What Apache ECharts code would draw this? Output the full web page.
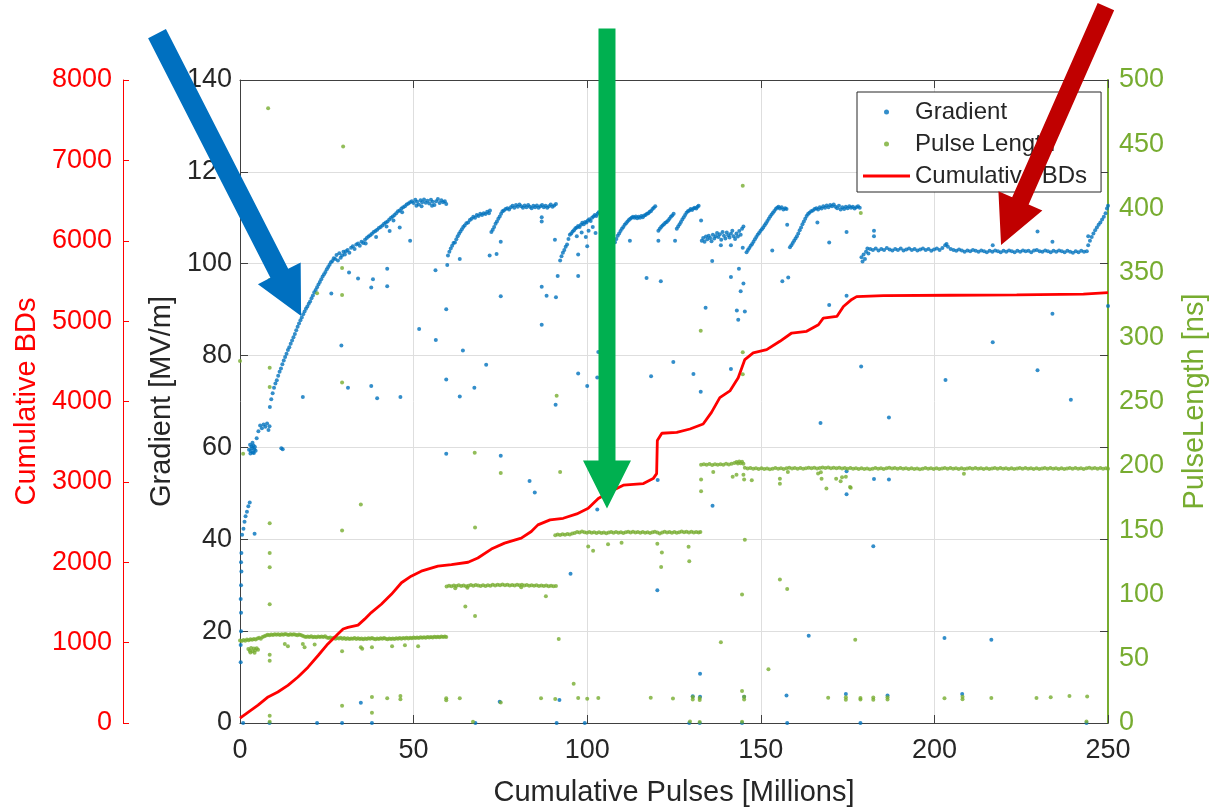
<!DOCTYPE html>
<html>
<head>
<meta charset="utf-8">
<title>Cumulative pulses</title>
<script src="https://cdn.jsdelivr.net/npm/echarts@6/dist/echarts.min.js"></script>
<style>
  html, body { margin: 0; padding: 0; background: #ffffff; }
  #chart { width: 1227px; height: 812px; }
</style>
</head>
<body>
<div id="chart"></div>
<script>
// Cumulative pulses [millions] vs gradient [MV/m]: main conditioning trace
const gradientTrace = [
  [0.2,13.2],[0.2,17],[0.3,20],[0.3,24],[0.2,27],[0.3,30],[0.4,33],[0.3,35],[0.4,37],[0.6,41],[1.0,42.3],[1.3,43.8],[1.6,45],[2.0,46],[2.4,47.2],[2.8,48],
  [2.6,59.5],[2.9,60.6],[3.1,59.2],[3.3,60.2],[3.5,59.8],[3.7,58.9],[3.9,60.4],[4.1,59.6],[4.3,60.1],[4.5,59.3],[3.0,58.7],[3.6,61],[4.0,58.8],
  [4.8,62],[5.3,63.5],[5.8,64.8],[6.3,64.2],[6.8,65],[7.3,64.5],[7.8,65.2],[8.2,63.8],[8.5,64.6],
  [8.6,68.8],[9.0,70.5],[9.4,71.8],[9.8,73.0],[10.2,73.9],[10.6,74.6],[11.0,75.6],[11.4,76.5],[11.8,77.2],[12.2,78.1],[12.6,78.9],[13.0,79.7],
  [13.4,80.4],[13.8,81.2],[14.2,81.8],[14.6,82.6],[15.0,83.3],[15.4,84.0],[15.8,84.7],[16.2,85.5],[16.6,86.3],[17.0,87.0],[17.4,87.7],[17.8,88.3],
  [18.2,89.0],[18.6,89.6],[19.0,90.2],[19.4,90.7],[19.8,91.3],[20.2,91.8],[20.6,92.5],[21.0,93.1],[21.4,93.8],[21.8,94.3],[22.2,94.9],[22.6,95.5],
  [23.0,96.0],[23.4,96.6],[23.8,97.2],[24.2,97.7],[24.6,98.2],[25.0,98.8],[25.4,99.3],[25.8,99.8],[26.2,100.3],[26.6,100.6],[27.0,101.2],[27.4,101.0],
  [27.8,101.9],[28.2,100.7],[28.6,102.3],[29.0,101.3],[29.4,101.8],[29.8,102.6],[30.2,102.0],[30.5,102.7],[31.0,103.0],[31.5,102.4],[32.0,103.5],
  [32.5,103.8],[33.0,103.2],[33.5,104.2],[34.0,104.4],[34.5,103.9],[35.0,104.8],[35.5,104.5],[36.0,105.2],[36.5,105.6],[37.0,105.9],[37.5,106.2],
  [38.0,106.5],[38.5,106.9],[39.0,107.1],[39.5,107.4],[40.0,107.8],[40.5,108.0],[41.0,108.3],[41.5,108.7],[42.0,109.0],[42.5,109.2],[43.0,109.6],
  [43.5,110.0],[44.0,110.3],[44.5,110.6],[45.0,111.0],[45.5,111.4],[46.0,111.6],[46.5,112.0],[47.0,112.3],[47.5,112.5],[48.0,112.9],[48.5,113.1],
  [49.0,113.4],[49.5,113.6],[50.0,113.2],[50.5,113.9],[51.0,113.5],[51.5,112.9],[52.0,113.8],[52.5,113.4],[53.0,114.0],[53.5,113.3],[54.0,113.7],
  [54.5,113.1],[55.0,113.9],[55.5,113.5],[56.0,112.8],[56.5,113.6],[57.0,114.1],[57.5,113.2],[58.0,113.8],[58.5,113.4],[59.0,113.6],[59.4,113.0],
  [36.2,104.4],[39.2,105.8],[42.2,108.1],[44.2,109.4],[46.7,111.2],[50.8,112.6],[52.3,112.5],[55.3,112.6],
  [59.9,101.8],[60.3,102.6],[60.7,103.3],[61.1,103.9],[61.5,104.5],[61.9,104.6],[62.3,105.3],[62.7,106.0],[63.1,106.5],[63.5,107.0],[63.9,107.5],
  [64.3,108.0],[64.7,108.3],[65.2,108.8],[65.7,109.0],[66.2,109.5],[66.7,109.8],[67.2,110.2],[67.7,110.0],[68.2,110.6],[68.7,110.4],[69.2,110.9],
  [69.7,110.6],[70.2,111.0],[70.7,110.8],[71.2,111.3],[71.7,111.0],[72.0,111.6],
  [72.4,106.9],[72.8,107.4],[73.2,108.0],[73.6,108.7],[74.0,109.2],[74.4,109.8],[74.8,110.3],[75.2,110.9],[75.6,111.4],[76.0,111.6],[76.5,111.9],
  [77.0,112.1],[77.5,111.8],[78.0,112.3],[78.5,112.6],[79.0,112.2],[79.5,112.8],[80.0,112.4],[80.5,112.9],[81.0,112.5],[81.5,112.2],[82.0,112.7],
  [82.5,112.3],[83.0,112.8],[83.5,112.4],[84.0,112.1],[84.5,112.6],[85.0,112.3],[85.5,112.7],[86.0,112.2],[86.5,112.5],[87.0,112.8],[87.5,112.3],
  [88.0,112.6],[88.5,112.2],[89.0,112.5],[89.5,112.9],[90.0,112.4],[90.5,112.7],[91.0,113.0],
  [92.2,100.7],[92.6,101.6],[93.0,102.4],[93.4,103.0],[93.8,103.7],[94.2,104.2],[94.6,105.4],[95.0,106.3],[95.4,106.6],[95.8,107.0],[96.2,107.3],
  [96.6,107.7],[97.0,107.9],[97.4,108.2],[97.8,108.0],[98.2,108.5],[98.6,108.9],[99.0,108.6],[99.4,109.1],[99.8,109.0],[100.2,109.4],[100.6,109.7],
  [101.0,109.3],[101.4,110.0],[101.8,110.3],[102.2,110.6],[102.6,110.4],[103.0,110.9],[103.3,111.2],
  [97.0,106.0],[98.4,106.8],[99.6,105.8],[100.4,107.2],[101.6,108.0],[102.4,106.7],
  [108.0,104.7],[108.4,105.4],[108.8,106.1],[109.2,106.6],[109.6,107.1],[110.0,107.6],[110.4,108.0],[110.8,108.5],[111.2,108.8],[111.6,109.2],
  [112.0,109.5],[112.4,109.8],[112.8,110.0],[113.2,110.2],[113.6,110.0],[114.0,110.3],[114.4,109.9],[114.8,110.2],[115.2,110.0],[115.6,110.4],
  [116.0,110.1],[116.4,110.5],[116.8,110.6],[117.2,110.9],[117.6,111.0],[118.0,111.3],[118.4,111.5],[118.8,111.9],[119.2,112.2],[119.6,112.5],
  [120.5,107.2],[120.9,107.6],[121.3,108.0],[121.7,108.3],[122.1,108.6],[122.5,108.9],[122.9,109.1],[123.3,109.4],[123.7,109.8],[124.1,110.2],
  [124.5,110.5],[124.9,110.9],
  [125.8,107.6],[126.2,108.1],[126.6,108.6],[127.0,109.1],[127.4,109.6],[127.8,110.1],[128.2,110.6],[128.6,111.1],[129.0,111.4],[129.4,111.6],
  [129.8,111.9],[130.2,111.7],[130.6,112.0],[131.0,112.2],[131.4,112.0],[131.8,112.4],[132.1,112.6],
  [133.0,105.0],[133.4,105.6],[133.8,104.8],[134.2,105.9],[134.6,105.3],[135.0,106.1],[135.4,105.6],[135.8,104.9],[136.2,106.3],[136.6,105.5],
  [137.0,106.0],[137.4,106.7],[137.8,105.8],[138.2,106.4],[138.6,105.2],[139.0,106.9],[139.4,106.1],[139.8,105.5],[140.2,106.8],[140.6,106.2],
  [141.0,105.7],[141.4,106.5],[141.8,107.2],[142.2,106.0],[142.6,105.4],[143.0,106.6],[143.4,105.9],[143.8,107.1],[144.2,106.3],[144.6,107.6],[145.0,108.1],
  [145.9,102.5],[146.3,103.0],[146.7,103.4],[147.1,103.9],[147.5,104.3],[147.9,104.8],[148.3,105.3],[148.7,105.8],[149.1,106.3],[149.5,106.7],
  [149.9,107.1],[150.3,107.5],[150.7,107.9],[151.1,108.4],[151.5,108.8],[151.9,109.3],[152.3,109.8],[152.7,110.3],[153.1,110.7],[153.5,111.1],
  [153.9,111.5],[154.3,111.9],[154.7,112.2],[155.1,112.4],[155.5,112.0],[156.0,112.3],[156.5,111.8],[157.0,112.1],[157.4,111.9],
  [158.4,103.6],[158.8,104.0],[159.2,104.5],[159.6,105.0],[160.0,105.5],[160.4,106.0],[160.8,106.6],[161.2,107.3],[161.6,107.9],[162.0,108.6],
  [162.4,109.2],[162.8,109.8],[163.2,110.4],[163.6,110.8],[164.0,111.1],[164.5,111.4],[165.0,111.6],[165.5,111.9],[166.0,112.1],[166.5,111.8],
  [167.0,112.3],[167.5,112.0],[168.0,112.5],[168.5,112.2],[169.0,112.7],[169.5,112.3],[170.0,112.8],[170.5,112.5],[171.0,112.9],[171.5,112.4],
  [172.0,112.1],[172.5,112.6],[173.0,111.8],[173.5,112.3],[174.0,111.9],[174.5,112.4],[175.0,112.1],[175.5,112.5],[176.0,112.2],[176.5,112.4],
  [177.0,112.0],[177.5,112.3],[178.0,112.5],[178.5,112.2],
  [179.0,101.4],[179.3,100.5],[179.6,102.0],[180.0,101.0],[180.3,102.6],[180.7,103.3],[181.0,102.2],
  [181.5,103.2],[182.3,103.0],[183.1,103.3],[183.9,102.9],[184.7,103.2],[185.5,103.0],[186.3,103.4],[187.1,103.1],[187.9,102.9],[188.7,103.2],
  [189.5,103.0],[190.3,103.3],[191.1,102.9],[191.9,103.1],[192.7,103.3],[193.5,103.0],[194.3,103.2],[195.1,102.9],[195.9,103.1],[196.7,103.3],
  [197.5,103.0],[198.3,103.2],[199.1,102.8],[199.9,103.1],[200.7,103.3],[201.5,103.0],[202.3,103.4],[203.1,104.0],[203.5,104.3],[203.9,103.7],
  [204.7,103.2],[205.5,103.0],[206.3,102.8],[207.1,103.1],[207.9,102.9],[208.7,102.6],[209.5,102.9],[210.3,102.7],[211.1,103.0],[211.9,102.8],
  [212.7,102.6],[213.5,102.9],[214.3,102.7],[215.1,102.5],[215.9,102.8],[216.7,102.6],[217.5,102.9],[218.3,102.7],[219.1,102.5],[219.9,102.8],
  [220.7,102.6],[221.5,102.9],[222.3,102.7],[223.1,102.5],[223.9,102.8],[224.7,102.6],[225.5,102.9],[226.3,102.7],[227.1,102.8],[227.9,102.5],
  [228.7,102.9],[229.5,103.0],[230.3,102.7],[231.1,102.6],[231.9,102.9],[232.7,102.7],[233.5,102.5],[234.3,102.8],[235.1,102.6],[235.9,102.9],
  [236.7,102.7],[237.5,102.5],[238.3,102.8],[239.1,102.6],[239.9,102.4],[240.7,102.7],[241.5,102.5],[242.3,102.8],[243.1,102.6],[243.9,102.7],
  [244.3,104.0],[244.8,105.0],[245.3,105.8],[245.8,106.6],[246.3,107.3],[246.8,107.9],[247.3,108.5],[247.8,109.0],[248.3,109.6],[248.8,110.2],
  [249.3,111.0],[249.7,112.0]
];

// Gradient readings away from the main trace
const gradientOutliers = [
  [11.9,59.8],[12.3,59.6],[18.1,71],[26.3,93.5],[29.2,82.2],[31.1,73],[31.4,98.1],[34,96.8],[37.8,94.8],[38.3,96.6],[37.8,73.4],[39.5,70.7],
  [42.4,98.9],[42.4,95.1],[43.1,107.1],[46,107.9],[46.2,71],[49,105],[51.6,85.8],[56.3,98.6],[56.4,83.4],[59.4,90.1],[59.4,74.8],[59.4,58.6],
  [59.7,99.7],[63.3,101],[64.2,81.1],[63.3,71.1],[67.5,73],[70.9,78],[71.9,101.8],[73.9,102.1],[75.1,104.8],[75.1,92.9],[75.1,58.2],[4.2,41.2],
  [83.4,52.7],[84.9,50.2],[34.8,4.4],[74.8,4.6],[0.9,0],[8.5,0],[22.2,0],[29.4,0],[38,0],[67.8,0],
  [86.9,110.1],[86.9,109.2],[90.7,105.2],[91.5,97.3],[86.9,95],[88.3,93],[91,92.7],[86.9,86.7],[97.4,97.3],[97.4,102],[97.4,76.1],[100,73.4],
  [102.9,75.2],[103.2,80.8],[102.9,46.5],[90.9,69.3],[100,103.8],[112.3,105],[117.1,96.9],[121.2,96.2],[120.5,105],[125.3,105],[132.8,109.4],
  [124.8,78.6],[118.4,75.5],[130.6,76],[132.7,72.1],[120.3,52.9],[134.1,90.4],[136,100.6],[141.4,97.1],[143.7,98.9],[145,95.7],[144.2,94],
  [143.1,89.8],[145.4,89.6],[143.5,87.8],[141.4,77.1],[138.5,104],[141.4,104],[144.8,103.5],[136.1,47.3],[153.3,102.9],[156.2,96.2],[157.9,97],
  [157.6,108.5],[166.3,109],[169.7,104.6],[169.7,91],[174.7,106.9],[174.7,93],[167.2,65.3],[178.9,77.6],[174.7,54.8],[174.7,49.8],
  [182.6,107.2],[182.6,106],[216.8,104],[229.7,107],[234,104.8],[244.3,106],[250,112.6],[250,90.8],[234,89.1],[216.8,82.9],[203.2,74.7],
  [229.7,76.8],[239.3,70.4],[186.9,66.5],[182.6,53.1],[186.9,53],
  [95.2,32.5],[120.2,28.9],[182.4,38.5],[163.8,19],[202.9,18.5],[216.4,18.1],[132.5,10.7],[92,5],[130.4,5.8],[132.5,5.7],[145.2,5.7],[157.4,6],
  [174.5,6.3],[186.5,6],[208,6.3],[91.2,0],[99.3,0],[129.4,0],[132.4,0],[144.6,0],[157.6,0],[178.7,0],[243.8,0]
];

// Pulse length [ns] plateaus
const pulseTrace = [
  [0.0,64.2],[0.5,63.8],[1.0,64.6],[1.5,64.0],[2.0,64.9],[2.5,64.3],[3.0,65.1],[3.5,64.7],[4.0,65.4],[4.5,65.0],[5.0,65.8],[5.5,66.3],[6.0,65.6],
  [6.5,66.8],[7.0,67.4],[7.5,68.0],[8.0,68.6],[8.5,68.2],[9.0,68.9],[9.5,68.4],[10.0,69.0],[10.5,68.6],[11.0,69.1],[11.5,68.5],[12.0,69.0],
  [12.5,68.7],[13.0,69.2],[13.5,68.8],[14.0,68.4],[14.5,69.0],[15.0,68.6],[15.5,69.1],[16.0,68.7],[16.5,68.3],[17.0,68.9],[17.5,68.5],[18.0,67.8],
  [18.5,67.2],[19.0,66.8],[19.5,67.3],[20.0,66.9],[20.5,67.4],[21.0,66.7],[21.5,67.1],[22.0,66.6],[22.5,67.2],[23.0,66.8],[23.5,67.3],[24.0,66.9],
  [24.5,67.5],[25.0,66.5],[25.5,66.0],[26.0,66.4],[26.5,65.8],[27.0,66.2],[27.5,65.6],[28.0,66.1],[28.5,65.7],[29.0,66.3],[29.5,65.5],[30.0,66.0],
  [30.5,65.4],[31.0,65.9],[31.5,65.3],[32.0,65.8],[32.5,65.5],[33.0,66.0],[33.5,65.4],[34.0,65.9],[34.5,65.3],[35.0,65.7],[35.5,65.2],[36.0,65.8],
  [36.5,65.4],[37.0,65.9],[37.5,65.5],[38.0,66.0],[38.5,65.6],[39.0,65.2],[39.5,65.8],[40.0,65.4],[40.5,65.9],[41.0,65.5],[41.5,66.0],[42.0,65.6],
  [42.5,65.2],[43.0,65.7],[43.5,65.3],[44.0,65.8],[44.5,65.4],[45.0,65.9],[45.5,65.5],[46.0,66.0],[46.5,65.6],[47.0,66.1],[47.5,65.7],[48.0,66.2],
  [48.5,65.8],[49.0,66.3],[49.5,65.9],[50.0,66.4],[50.5,66.0],[51.0,66.5],[51.5,66.1],[52.0,66.6],[52.5,66.2],[53.0,66.7],[53.5,66.3],[54.0,66.8],
  [54.5,66.4],[55.0,66.9],[55.5,66.5],[56.0,67.0],[56.5,66.6],[57.0,67.1],[57.5,66.7],[58.0,67.2],[58.5,66.8],[59.0,67.3],[59.4,66.9],
  [59.5,106.2],[60.2,106.8],[60.9,106.4],[61.6,107.0],[62.3,106.6],[63.0,107.2],[63.7,106.5],[64.4,106.9],[65.1,106.3],[65.8,106.8],[66.5,107.3],
  [67.2,106.7],[67.9,107.4],[68.6,107.0],[69.3,106.6],[70.0,107.1],[70.7,106.5],[71.4,107.2],[72.1,106.8],[72.8,107.5],[73.5,107.0],[74.2,107.6],
  [74.9,107.1],[75.6,107.7],[76.3,107.2],[77.0,107.6],[77.7,107.0],[78.4,107.4],[79.1,106.9],[79.8,107.5],[80.5,107.1],[81.2,107.6],[81.9,107.0],
  [82.6,107.3],[83.3,106.8],[84.0,107.2],[84.7,106.7],[85.4,107.1],[86.1,106.6],[86.8,107.0],[87.5,106.5],[88.2,106.9],[88.9,106.4],[89.6,106.8],
  [90.3,106.3],[91.0,106.6],[62.0,104.8],[65.5,105.2],[81.0,105.6],
  [90.8,146.0],[91.5,146.6],[92.2,146.2],[92.9,146.8],[93.6,146.4],[94.3,147.0],[95.0,146.6],[95.7,147.3],[96.4,147.8],[97.1,148.6],[97.8,148.2],
  [98.5,148.9],[99.2,148.4],[99.9,148.0],[100.6,148.5],[101.3,147.9],[102.0,148.4],[102.7,147.8],[103.4,148.3],[104.1,147.7],[104.8,148.2],
  [105.5,147.6],[106.2,148.1],[106.9,148.6],[107.6,148.0],[108.3,148.5],[109.0,147.9],[109.7,148.4],[110.4,147.8],[111.1,148.3],[111.8,148.8],
  [112.5,148.2],[113.2,148.7],[113.9,148.1],[114.6,148.6],[115.3,148.0],[116.0,148.5],[116.7,147.9],[117.4,148.4],[118.1,147.8],[118.8,148.3],
  [119.5,148.8],[120.2,148.1],[120.9,147.4],[121.6,148.2],[122.3,148.7],[123.0,148.1],[123.7,148.6],[124.4,148.0],[125.1,148.5],[125.8,147.9],
  [126.5,148.4],[127.2,148.9],[127.9,148.3],[128.6,148.8],[129.3,148.2],[130.0,148.7],[130.7,148.1],[131.4,148.6],[132.1,148.2],[132.6,148.5],
  [132.8,200.8],[133.6,201.3],[134.4,200.9],[135.2,201.4],[136.0,200.7],[136.8,201.2],[137.6,200.8],[138.4,201.3],[139.2,200.9],[140.0,201.5],
  [140.8,201.0],[141.6,201.6],[142.4,202.2],[143.0,203.0],[143.4,201.8],[143.8,203.3],[144.2,202.0],[144.6,203.1],[145.0,201.6],[145.4,198.4],
  [146.2,197.9],[147.0,198.3],[147.8,197.7],[148.6,198.1],[149.4,197.6],[150.2,198.0],[151.0,197.5],[151.8,197.9],[152.6,197.4],[153.4,197.8],
  [154.2,198.2],[155.0,197.7],[155.8,198.1],[156.6,197.6],[157.4,198.0],[158.2,198.4],[159.0,197.9],[159.8,198.3],[160.6,197.8],[161.4,198.2],
  [162.2,197.7],[163.0,198.1],[163.8,198.5],[164.6,198.0],[165.4,198.4],[166.2,197.9],[167.0,198.3],[167.8,198.7],[168.6,198.2],[169.4,198.6],
  [170.2,198.1],[171.0,198.5],[171.8,198.0],[172.6,198.4],[173.4,197.9],[174.2,198.3],[175.0,197.8],[175.8,198.2],[176.6,197.7],[177.4,198.1],
  [178.2,197.6],[179.0,198.0],[179.8,197.5],[180.6,197.9],[181.4,197.4],[182.2,197.8],[183.0,198.2],[183.8,197.7],[184.6,198.1],[185.4,197.6],
  [186.2,198.0],[187.0,198.4],[187.8,197.9],[188.6,198.3],[189.4,197.8],[190.2,198.2],[191.0,197.7],[191.8,198.1],[192.6,197.6],[193.4,198.0],
  [194.2,197.5],[195.0,197.9],[195.8,197.4],[196.6,197.8],[197.4,198.2],[198.2,197.7],[199.0,198.1],[199.8,197.6],[200.6,198.0],[201.4,197.5],
  [202.2,197.9],[203.0,198.3],[203.8,197.8],[204.6,198.2],[205.4,197.7],[206.2,198.1],[207.0,197.6],[207.8,198.0],[208.6,197.5],[209.4,197.9],
  [210.2,198.3],[211.0,197.8],[211.8,198.2],[212.6,197.7],[213.4,198.1],[214.2,197.6],[215.0,198.0],[215.8,197.5],[216.6,197.9],[217.4,198.3],
  [218.2,197.8],[219.0,198.2],[219.8,197.7],[220.6,198.1],[221.4,197.6],[222.2,198.0],[223.0,197.5],[223.8,197.9],[224.6,198.3],[225.4,197.8],
  [226.2,198.2],[227.0,197.7],[227.8,198.1],[228.6,197.6],[229.4,198.0],[230.2,197.5],[231.0,197.9],[231.8,198.3],[232.6,197.8],[233.4,198.2],
  [234.2,197.7],[235.0,198.1],[235.8,197.6],[236.6,198.0],[237.4,197.5],[238.2,197.9],[239.0,198.3],[239.8,197.8],[240.6,198.2],[241.4,197.7],
  [242.2,198.1],[243.0,197.6],[243.8,198.0],[244.6,198.4],[245.4,197.9],[246.2,198.3],[247.0,197.8],[247.8,198.2],[248.6,197.7],[249.4,198.1],[250.0,197.8]
];

// Pulse length readings off the plateaus
const pulseOutliers = [
  [8.1,478],[29.7,448.3],[8.55,344.4],[8.55,276.2],[8.55,261.3],[22.2,334.1],[29.4,353.9],[29.4,332.8],[29.4,264.7],[67.6,210.1],[75.1,194.4],
  [0.9,209.3],[0,281.4],[8.55,155.3],[8.55,132.2],[8.55,121.1],[8.55,92.4],[29.4,149.7],[34.8,170],[67.7,152],[64.9,90.5],[67.7,83.3],
  [8.55,53],[8.55,48.4],[12.9,61.5],[13.8,59.7],[18.1,61.5],[18.6,59],[21.5,61],[29.4,55.8],[34.8,59],[35.2,57.7],[38,59],[43.8,59.7],
  [47.5,60.5],[51.3,59.7],[38,20.3],[38,7.9],[29.4,13.4],[42.4,19.3],[46.2,21],[46.2,18.4],[59.4,19.3],[59.4,17.7],[63.3,19.3],[75.1,16],
  [8.55,5.6],[8.55,1],[67.1,1],
  [2.4,57.5],[2.8,56.2],[3.2,58.4],[3.6,55.8],[4.0,57.9],[4.4,56.6],[4.8,58.1],[5.2,57.0],[3.0,54.8],[4.2,54.6],
  [144.8,417.7],[178.8,396.6],[132.7,305],[144.8,288.3],[144.8,271.1],[91.2,254.4],[92.2,195.2],[132.8,189.3],[132.8,180.3],[136.3,195.2],
  [141.9,191.4],[143,193.1],[145,193.1],[145.2,189.3],[147.4,188.8],[155.5,190],[155.5,186],[157.8,195.2],[166.5,194.1],[168.9,182.3],
  [167.3,195],[167.5,190],[171.7,190],[173,188],[173.4,191],[174.5,191.5],[175.9,183],[175.7,183.6],[208.5,193.9],
  [88.1,98.5],[100.3,137.3],[101.7,134],[106,138.9],[109.9,140.2],[120.2,139.4],[121.5,132.5],[121.3,121.4],[129.2,137.1],[129.4,125.8],
  [145.4,142.5],[144.6,100],[155.5,111.6],[157.6,104.2],[91.8,65.3],[138.5,62.7],[177.2,64.8],[152.2,41.7],[96.1,30.6],[144.6,24.9],
  [86.7,19.2],[90.8,18.6],[97.4,19.4],[100,18.8],[103.2,19.5],[118.3,19.6],[124.7,19.0],[130.4,20.3],[130.4,18.2],[132.4,19.4],[132.4,17.9],
  [145.2,20.4],[145.2,18.3],[169.4,19.6],[174.5,20.1],[174.5,18.0],[178.7,19.5],[178.7,18.3],[182.4,19.8],[182.4,18.1],[186.5,20.0],[186.5,18.2],
  [202.9,19.3],[208.1,20.4],[208.1,18.5],[216.4,19.5],[229.4,19.4],[233.5,20.0],[238.9,20.9],[244,20.6],
  [129.6,1.2],[132.4,0.8],[144.6,1.0],[243.8,1.2]
];

// Cumulative breakdown count
const cumulativeBDs = [
  [0,60],[2.3,132],[5.2,222],[8.1,325],[10.9,386],[13.8,469],[16.7,572],[19.6,695],[22.5,840],[25.3,984],[28.2,1107],[29.7,1169],[31.1,1189],
  [34,1218],[35.9,1292],[37.8,1374],[40.7,1477],[43.6,1601],[46.5,1745],[49.3,1827],[52.2,1889],[57,1951],[60.9,1971],[65.7,2000],[68.5,2053],
  [72.4,2164],[76.2,2238],[81,2300],[83.9,2383],[85.8,2465],[89.3,2527],[93.1,2547],[97,2601],[100.3,2671],[103.2,2794],[106.6,2877],
  [110.4,2959],[116.2,2979],[119,3041],[120,3103],[120.2,3515],[121.5,3605],[125.8,3617],[129.6,3658],[133.4,3720],[135.8,3864],[138.2,4049],
  [141.1,4132],[143.5,4296],[145.4,4522],[147.8,4605],[151.7,4646],[155.5,4749],[158.9,4852],[163.2,4873],[166.6,4955],[168,5037],[171.9,5058],
  [173.8,5182],[176.2,5270],[177.6,5305],[185.3,5317],[204.5,5322],[223.7,5327],[242.9,5335],[250,5354]
];

// Highlight arrows, ends given in (pulses, gradient) coordinates
const callouts = [
  { from: [-23.9, 150.1], to: [17.6, 88.6], color: '#0070C0', width: 20 },
  { from: [105.7, 151.2], to: [105.7, 46.7], color: '#00B050', width: 17 },
  { from: [249.4, 156.0], to: [219.2, 104.1], color: '#C00000', width: 18 }
];

const FONT = '"Liberation Sans", Arial, Helvetica, sans-serif';
const INK = '#262626';
const RED = '#FF0000';
const GREEN = '#77AC30';
const BLUE = '#0072BD';

const chart = echarts.init(document.getElementById('chart'), null, { renderer: 'canvas' });

const plain = v => String(v);

chart.setOption({
  animation: false,
  backgroundColor: '#ffffff',
  grid: { left: 240, right: 119, top: 80, bottom: 84, containLabel: false },
  legend: {
    left: 857, top: 92, orient: 'vertical',
    backgroundColor: '#ffffff', borderColor: INK, borderWidth: 1,
    padding: [5, 14, 1, 6], itemGap: 2, itemWidth: 47, itemHeight: 5,
    textStyle: { fontFamily: FONT, fontSize: 24, color: INK, lineHeight: 30 },
    data: [
      { name: 'Gradient', icon: 'circle' },
      { name: 'Pulse Length', icon: 'circle' },
      { name: 'Cumulative BDs', icon: 'path://M0,0 L47,0 L47,3 L0,3 Z' }
    ]
  },
  xAxis: [
    {
      type: 'value', min: 0, max: 250, interval: 50,
      name: 'Cumulative Pulses [Millions]', nameLocation: 'middle', nameGap: 55,
      nameTextStyle: { fontFamily: FONT, fontSize: 29, color: INK },
      axisLine: { show: true, onZero: false, lineStyle: { color: '#404040', width: 1 } },
      axisTick: { show: true, inside: true, length: 8, lineStyle: { color: '#404040' } },
      axisLabel: { fontFamily: FONT, fontSize: 27, color: INK, margin: 14, formatter: plain },
      splitLine: { show: true, lineStyle: { color: '#dedede', width: 1 } }
    },
    {
      type: 'value', position: 'top', min: 0, max: 250, interval: 50,
      axisLine: { show: true, onZero: false, lineStyle: { color: '#404040', width: 1 } },
      axisTick: { show: true, inside: true, length: 8, lineStyle: { color: '#404040' } },
      axisLabel: { show: false }, splitLine: { show: false }
    }
  ],
  yAxis: [
    {
      type: 'value', position: 'left', min: 0, max: 140, interval: 20,
      name: 'Gradient [MV/m]', nameLocation: 'middle', nameGap: 52, nameRotate: 90,
      nameTextStyle: { fontFamily: FONT, fontSize: 29, color: INK },
      axisLine: { show: true, onZero: false, lineStyle: { color: '#404040', width: 1 } },
      axisTick: { show: true, inside: true, length: 8, lineStyle: { color: '#404040' } },
      axisLabel: { fontFamily: FONT, fontSize: 27, color: INK, margin: 8, formatter: plain },
      splitLine: { show: true, lineStyle: { color: '#dedede', width: 1 } }
    },
    {
      type: 'value', position: 'right', min: 0, max: 500, interval: 50,
      name: 'PulseLength [ns]', nameLocation: 'middle', nameGap: 72, nameRotate: 90,
      nameTextStyle: { fontFamily: FONT, fontSize: 29, color: GREEN },
      axisLine: { show: true, onZero: false, lineStyle: { color: GREEN, width: 2 } },
      axisTick: { show: false },
      axisLabel: { fontFamily: FONT, fontSize: 27, color: GREEN, margin: 11, formatter: plain },
      splitLine: { show: false }
    },
    {
      type: 'value', position: 'left', offset: 117, min: 0, max: 8000, interval: 1000,
      name: 'Cumulative BDs', nameLocation: 'middle', nameGap: 67, nameRotate: 90,
      nameTextStyle: { fontFamily: FONT, fontSize: 29, color: RED },
      axisLine: { show: true, onZero: false, lineStyle: { color: RED, width: 1 } },
      axisTick: { show: true, inside: true, length: 6, lineStyle: { color: RED } },
      axisLabel: { fontFamily: FONT, fontSize: 27, color: RED, margin: 11, formatter: plain },
      splitLine: { show: false }
    },
    {
      type: 'value', position: 'right', min: 0, max: 140, interval: 20,
      axisLine: { show: false, onZero: false },
      axisTick: { show: true, inside: true, length: 8, lineStyle: { color: '#404040' } },
      axisLabel: { show: false }, splitLine: { show: false }
    }
  ],
  series: [
    {
      name: 'Gradient', type: 'scatter', xAxisIndex: 0, yAxisIndex: 0,
      symbol: 'circle', symbolSize: 4,
      itemStyle: { color: BLUE },
      data: gradientTrace.concat(gradientOutliers), z: 2
    },
    {
      name: 'Pulse Length', type: 'scatter', xAxisIndex: 0, yAxisIndex: 1,
      symbol: 'circle', symbolSize: 4,
      itemStyle: { color: GREEN },
      data: pulseTrace.concat(pulseOutliers), z: 3
    },
    {
      name: 'Cumulative BDs', type: 'line', xAxisIndex: 0, yAxisIndex: 2,
      symbol: 'none', showSymbol: false,
      lineStyle: { color: RED, width: 2.8 }, itemStyle: { color: RED },
      data: cumulativeBDs, z: 4
    }
  ]
});

// Arrow shapes built in pixel space from the axis conversion
function arrowPoints(p0, p1, shaftW, headL, headW) {
  const dx = p1[0] - p0[0], dy = p1[1] - p0[1];
  const len = Math.hypot(dx, dy);
  const ux = dx / len, uy = dy / len;
  const nx = -uy, ny = ux;
  const bx = p1[0] - ux * headL, by = p1[1] - uy * headL;
  const s = shaftW / 2;
  return [
    [p0[0] + nx * s, p0[1] + ny * s],
    [bx + nx * s, by + ny * s],
    [bx + nx * headW, by + ny * headW],
    [p1[0], p1[1]],
    [bx - nx * headW, by - ny * headW],
    [bx - nx * s, by - ny * s],
    [p0[0] - nx * s, p0[1] - ny * s]
  ];
}

const arrowGraphics = callouts.map(c => {
  const a = chart.convertToPixel({ xAxisIndex: 0, yAxisIndex: 0 }, c.from);
  const b = chart.convertToPixel({ xAxisIndex: 0, yAxisIndex: 0 }, c.to);
  return {
    type: 'polygon', z: 100, silent: true,
    shape: { points: arrowPoints(a, b, c.width, 48, 24) },
    style: { fill: c.color }
  };
});

chart.setOption({ graphic: arrowGraphics });
</script>
</body>
</html>
